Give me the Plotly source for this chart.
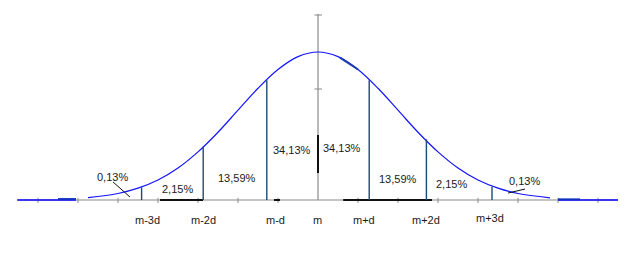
import plotly.graph_objects as go

# ---- data (x in axis-tick units, m = 0; y relative to curve peak = 1) ----
curve_x = [-5.75, -5.0, -4.5, -4.0, -3.5, -3.0, -2.5, -2.0, -1.5, -1.0, -0.5, 0.0,
           0.5, 1.0, 1.5, 2.0, 2.5, 3.0, 3.5, 4.0, 4.5, 5.0, 5.8]
curve_y = [0.016, 0.044, 0.080, 0.135, 0.216, 0.325, 0.458, 0.607, 0.755, 0.882, 0.969, 1.0,
           0.969, 0.882, 0.755, 0.607, 0.458, 0.325, 0.216, 0.135, 0.080, 0.044, 0.015]

sigma_labels = ["m-3d", "m-2d", "m-d", "m", "m+d", "m+2d", "m+3d"]
sigma_x = [-4.41, -2.87, -1.28, 1.28, 2.71, 4.35]
sigma_h = [0.085, 0.36, 0.81, 0.81, 0.41, 0.09]

pct_labels = ["0,13%", "2,15%", "13,59%", "34,13%", "34,13%", "13,59%", "2,15%", "0,13%"]

axis_ticks_x = [-7, -6, -5, -4, -3, -2, -1, 1, 2, 3, 4, 5, 6, 7]
vaxis_ticks_y = [0.75, 1.25]

# label placement (separate from data)
sig_lab_x = [-4.275, -2.875, -1.075, -0.025, 1.14, 2.69, 4.31]
sig_lab_y = [-0.135, -0.135, -0.135, -0.135, -0.135, -0.135, -0.122]
pct_lab_x = [-5.14, -3.51, -2.03, -0.66, 0.61, 2.01, 3.33, 5.16]
pct_lab_y = [0.155, 0.074, 0.149, 0.338, 0.351, 0.142, 0.108, 0.128]

fig = go.Figure()

def seg(xs, ys, color, width):
    fig.add_trace(go.Scatter(x=xs, y=ys, mode="lines",
                             line=dict(color=color, width=width),
                             hoverinfo="skip", showlegend=False))

# horizontal axis
seg([-7.5, 7.5], [0, 0], "#8a8a8a", 1.2)
tx, ty = [], []
for t in axis_ticks_x:
    tx += [t, t, None]
    ty += [-0.02, 0.015, None]
seg(tx, ty, "#8a8a8a", 1)

# vertical axis
seg([0, 0], [0, 1.257], "#8a8a8a", 1.2)
vx, vy = [], []
for t in vaxis_ticks_y:
    vx += [-0.09, 0.1, None]
    vy += [t, t, None]
seg(vx, vy, "#8a8a8a", 1)

# black emphasis segments
seg([-3.95, -2.875], [0, 0], "#111111", 2)
seg([0.63, 2.85], [0, 0], "#111111", 2)
seg([-1.1, -0.95], [0, 0], "#111111", 2)
seg([0, 0], [0.182, 0.439], "#111111", 2)

# tails of the curve
seg([-7.52, -6.05], [0, 0], "#0a0aff", 1.5)
seg([-6.5, -6.05], [0.007, 0.007], "#1030c0", 1.8)
seg([6.0, 7.5], [0, 0], "#0a0aff", 1.5)
seg([6.0, 6.55], [0.005, 0.005], "#1030c0", 1.8)

# bell curve
fig.add_trace(go.Scatter(x=curve_x, y=curve_y, mode="lines",
                         line=dict(color="#1414ff", width=1.2, shape="spline"),
                         hoverinfo="skip", showlegend=False))
seg([0.55, 1.0], [0.962, 0.882], "#1a3fa8", 2)

# sigma verticals
lx, ly = [], []
for x, h in zip(sigma_x, sigma_h):
    lx += [x, x, None]
    ly += [0, h, None]
seg(lx, ly, "#1c4a78", 1.4)

# pointer lines for 0,13%
seg([-5.125, -4.7], [0.122, 0.02], "#111111", 1)
seg([4.75, 5.175], [0.047, 0.074], "#111111", 1)

font = dict(family="Liberation Sans, Arial, sans-serif", size=11, color="#1a1a1a")
for t, x, y in zip(sigma_labels, sig_lab_x, sig_lab_y):
    fig.add_annotation(x=x, y=y, text=t, showarrow=False, font=font,
                       xanchor="center", yanchor="middle")
for t, x, y in zip(pct_labels, pct_lab_x, pct_lab_y):
    fig.add_annotation(x=x, y=y, text=t, showarrow=False, font=font,
                       xanchor="center", yanchor="middle")

fig.update_layout(
    width=632, height=273,
    margin=dict(l=0, r=0, t=0, b=0),
    paper_bgcolor="white", plot_bgcolor="white",
    xaxis=dict(visible=False, range=[-7.95, 7.85], fixedrange=True),
    yaxis=dict(visible=False, range=[-0.4932, 1.3514], fixedrange=True),
    showlegend=False,
)

fig.write_html("out.html")
